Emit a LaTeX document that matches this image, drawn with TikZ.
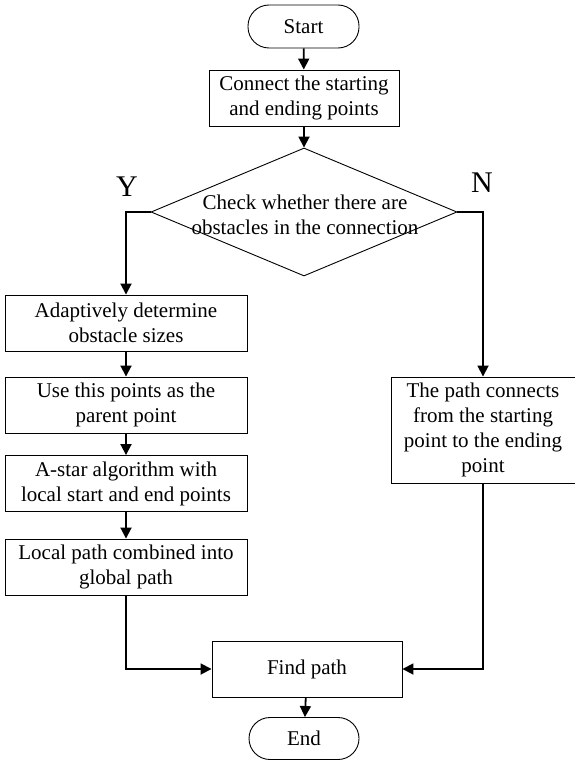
\documentclass[tikz,border=0pt]{standalone}
\usepackage{fontspec}
\setmainfont{Liberation Serif}
\usetikzlibrary{arrows.meta,shapes.geometric}
\begin{document}
\begin{tikzpicture}[x=1pt,y=-1pt,
  every node/.style={font=\fontsize{21}{25}\selectfont, inner sep=0pt, align=center},
  term/.style={draw, line width=0.9pt, rectangle, rounded corners=21pt, minimum width=111pt, minimum height=43pt},
  proc/.style={draw, line width=0.9pt, rectangle, minimum height=56pt},
  decis/.style={draw, line width=0.9pt, diamond, minimum width=306pt, minimum height=128pt},
  conn/.style={line width=1.8pt, -{Triangle[length=11pt,width=11pt]}},
  yn/.style={font=\fontsize{30}{34}\selectfont}
]
\useasboundingbox (0,0) rectangle (575,760);
\node[term] (start) at (303.5,26.5) {Start};
\node[proc, minimum width=190pt] (connect) at (304,98) {Connect the starting\\and ending points};
\node[decis] (dec) at (304,212) {};
\node (dectext) at (305,215) {Check whether there are\\obstacles in the connection};
\node[proc, minimum width=242pt] (adapt) at (126,323) {Adaptively determine\\obstacle sizes};
\node[proc, minimum width=242pt] (parent) at (126,405) {Use this points as the\\parent point};
\node[proc, minimum width=242pt] (astar) at (126,483.5) {A-star algorithm with\\local start and end points};
\node[proc, minimum width=242pt] (local) at (126,567) {Local path combined into\\global path};
\node[proc, minimum width=184pt, minimum height=106pt] (direct) at (483,430) {The path connects\\from the starting\\point to the ending\\point};
\node[proc, minimum width=190pt] (find) at (307,669) {Find path};
\node[term, minimum width=110pt, minimum height=42pt] (end) at (304,738.5) {End};
\node[yn] (ylab) at (127,187) {Y};
\node[yn] (nlab) at (482,183) {N};
\draw[conn] (start) -- (connect);
\draw[conn] (connect) -- (dec);
\draw[conn] (dec.west) -| (adapt.north);
\draw[conn] (dec.east) -| (direct.north);
\draw[conn] (adapt) -- (parent);
\draw[conn] (parent) -- (astar);
\draw[conn] (astar) -- (local);
\draw[conn] (local.south) |- (find.west);
\draw[conn] (direct.south) |- (find.east);
\draw[conn] (find) -- (end);
\end{tikzpicture}
\end{document}
